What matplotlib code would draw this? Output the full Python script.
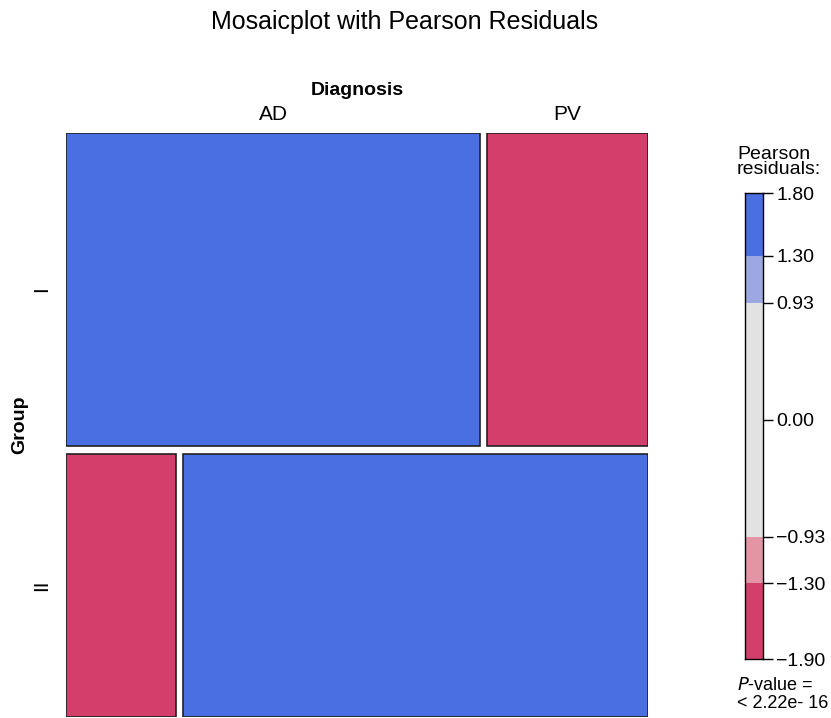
import numpy as np
import matplotlib

matplotlib.use('Agg')
import matplotlib.pyplot as plt

plt.rcParams['font.family'] = ['Liberation Sans', 'DejaVu Sans']

# Contingency table: rows = Group, columns = Diagnosis
groups = ["I", "II"]
diagnoses = ["AD", "PV"]
counts = np.array([[18, 7],
                   [4, 17]])

# Legend (shading) breaks and colours
legend_ticks = [-1.90, -1.30, -0.93, 0.00, 0.93, 1.30, 1.80]
band_edges = [-1.90, -1.30, -0.93, 0.93, 1.30, 1.80]
band_colors = ["#D33F6A", "#E495A5", "#E2E2E2", "#9DA8E2", "#4A6FE3"]

# Pearson residuals
n = counts.sum()
expected = counts.sum(axis=1, keepdims=True) * counts.sum(axis=0, keepdims=True) / n
residuals = (counts - expected) / np.sqrt(expected)


def shade(r):
    for lo, hi, c in zip(band_edges[:-1], band_edges[1:], band_colors):
        if lo <= r < hi:
            return c
    return band_colors[0] if r < band_edges[0] else band_colors[-1]


fig = plt.figure(figsize=(8.31, 7.18), dpi=100)

# Mosaic
ax = fig.add_axes([66 / 831, 1 - 717 / 718, 582 / 831, 584 / 718])
gap_x, gap_y = 7 / 582, 8 / 584

row_props = counts.sum(axis=1) / n
row_heights = row_props * (1 - gap_y)
row_tops = [1.0, row_heights[1]]
for i, g in enumerate(groups):
    h = row_heights[i]
    bottom = row_tops[i] - h
    col_props = counts[i] / counts[i].sum()
    widths = col_props * (1 - gap_x)
    lefts = [0.0, widths[0] + gap_x]
    for j in range(len(diagnoses)):
        ax.bar(lefts[j], h, width=widths[j], bottom=bottom, align='edge',
               color=shade(residuals[i, j]), edgecolor='#222222', linewidth=1.2)
        if i == 0:
            ax.text(lefts[j] + widths[j] / 2, 1.016, diagnoses[j], ha='center', va='bottom',
                    fontsize=15, clip_on=False)
    ax.text(-0.042, bottom + h / 2, g, ha='center', va='center', rotation=90,
            fontsize=15, clip_on=False)

ax.set_xlim(0, 1)
ax.set_ylim(0, 1)
ax.axis('off')

ax.text(0.5, 1.058, "Diagnosis", ha='center', va='bottom', fontsize=14, fontweight='bold')
ax.text(-0.08, 0.5, "Group", ha='center', va='center', rotation=90, fontsize=14, fontweight='bold')

fig.text(405 / 831, 1 - 22 / 718, "Mosaicplot with Pearson Residuals", ha='center', va='center', fontsize=18)

# Legend bar
lax = fig.add_axes([745 / 831, 1 - 659 / 718, 18 / 831, 466 / 718])
for lo, hi, c in zip(band_edges[:-1], band_edges[1:], band_colors):
    lax.bar(0, hi - lo, width=1, bottom=lo, align='edge', color=c, linewidth=0)
lax.set_xlim(0, 1)
lax.set_ylim(band_edges[0], band_edges[-1])
lax.set_xticks([])
lax.set_yticks(legend_ticks)
lax.set_yticklabels([f"{v:.2f}".replace("-", "\u2212") for v in legend_ticks])
lax.yaxis.tick_right()
lax.tick_params(axis='y', length=7.5, width=1, pad=2, labelsize=14)
for s in lax.spines.values():
    s.set_linewidth(1)

fig.text(737 / 831, 1 - 162 / 718, "Pearson\nresiduals:", ha='left', va='center', fontsize=14,
         linespacing=0.9)
fig.text(737 / 831, 1 - 686 / 718, r"$\it{P}$-value =", ha='left', va='center', fontsize=13)
fig.text(737 / 831, 1 - 704 / 718, "< 2.22e- 16", ha='left', va='center', fontsize=13)

fig.savefig("out.png", dpi=100)
